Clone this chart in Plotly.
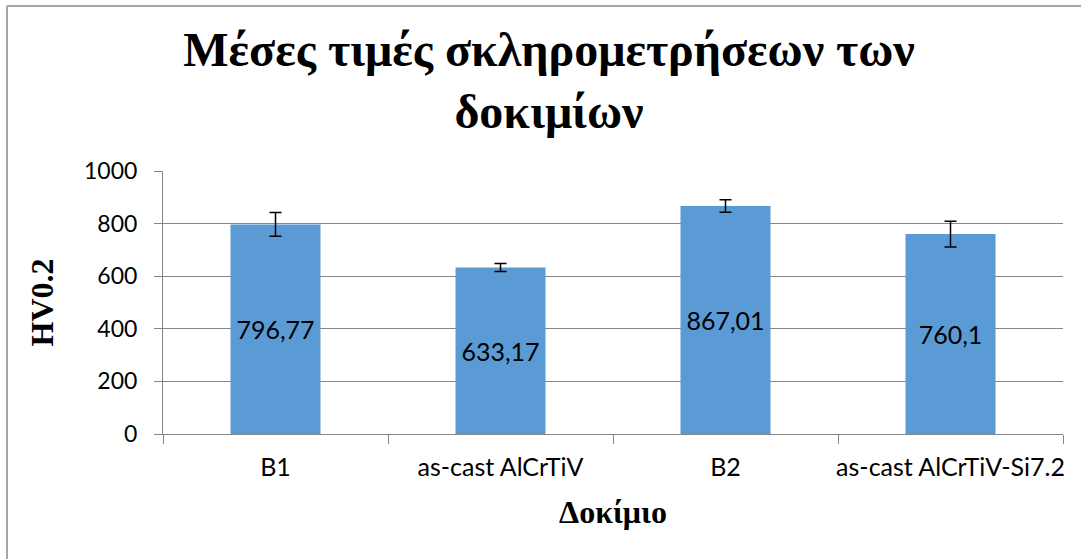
import plotly.graph_objects as go

# Hardness test results per specimen
categories = ["B1", "as-cast AlCrTiV", "B2", "as-cast AlCrTiV-Si7.2"]
mean_hv = [796.77, 633.17, 867.01, 760.1]
std_hv = [45, 15, 24, 49]
y_ticks = [0, 200, 400, 600, 800, 1000]

W, H = 1081, 559
ML, MR, MT, MB = 163, 18, 171, 125
pw, ph = W - ML - MR, H - MT - MB


def px_x(x):
    return (x - ML) / pw


def px_y(y):
    return (H - MB - y) / ph


labels = [f"{v:g}".replace(".", ",") for v in mean_hv]

fig = go.Figure()
fig.add_trace(go.Bar(
    x=categories,
    y=mean_hv,
    width=0.4,
    marker=dict(color="#5B9BD5", line=dict(width=0)),
    text=labels,
    textposition="inside",
    insidetextanchor="middle",
    textangle=0,
    textfont=dict(family="Lato", size=25, color="#000000"),
    error_y=dict(type="data", array=std_hv, visible=True,
                 color="#000000", thickness=1.5, width=6),
    cliponaxis=False,
))

border = "#A6A6A6"
fig.update_layout(
    width=W, height=H,
    margin=dict(l=ML, r=MR, t=MT, b=MB, pad=0, autoexpand=False),
    paper_bgcolor="white",
    plot_bgcolor="white",
    showlegend=False,
    title=dict(
        text="<b>Μέσες τιμές σκληρομετρήσεων των<br>δοκιμίων</b>",
        font=dict(family="Liberation Serif", size=48, color="#000000"),
        x=549 / W, xanchor="center", xref="container",
        y=1 - 66 / H, yanchor="top", yref="container",
    ),
    xaxis=dict(
        type="category",
        automargin=False,
        tickangle=0,
        showline=True, linecolor="#868686", linewidth=1,
        ticks="outside", tickson="boundaries", ticklen=9,
        tickcolor="#868686", tickwidth=1,
        showgrid=False,
        tickfont=dict(family="Lato", size=25, color="#000000"),
        ticklabelstandoff=11,
        title=dict(text="<b>Δοκίμιο</b>",
                   font=dict(family="Liberation Serif", size=32, color="#000000"),
                   standoff=20),
    ),
    yaxis=dict(
        range=[0, 1000],
        automargin=False,
        tickvals=y_ticks,
        showline=True, linecolor="#868686", linewidth=1,
        ticks="outside", ticklen=8, tickcolor="#868686", tickwidth=1,
        showgrid=True, gridcolor="#868686", gridwidth=1,
        zeroline=False,
        tickfont=dict(family="Lato", size=23, color="#000000"),
        ticklabelstandoff=12,
        title=dict(text="<b>HV0.2</b>",
                   font=dict(family="Liberation Serif", size=32, color="#000000"),
                   standoff=20),
    ),
    shapes=[
        dict(type="line", xref="paper", yref="paper",
             x0=px_x(7), x1=px_x(W), y0=px_y(6), y1=px_y(6),
             line=dict(color=border, width=2)),
        dict(type="line", xref="paper", yref="paper",
             x0=px_x(7), x1=px_x(7), y0=px_y(6), y1=px_y(H),
             line=dict(color=border, width=2)),
    ],
    bargap=0.6,
)

fig.write_html("out.html")
